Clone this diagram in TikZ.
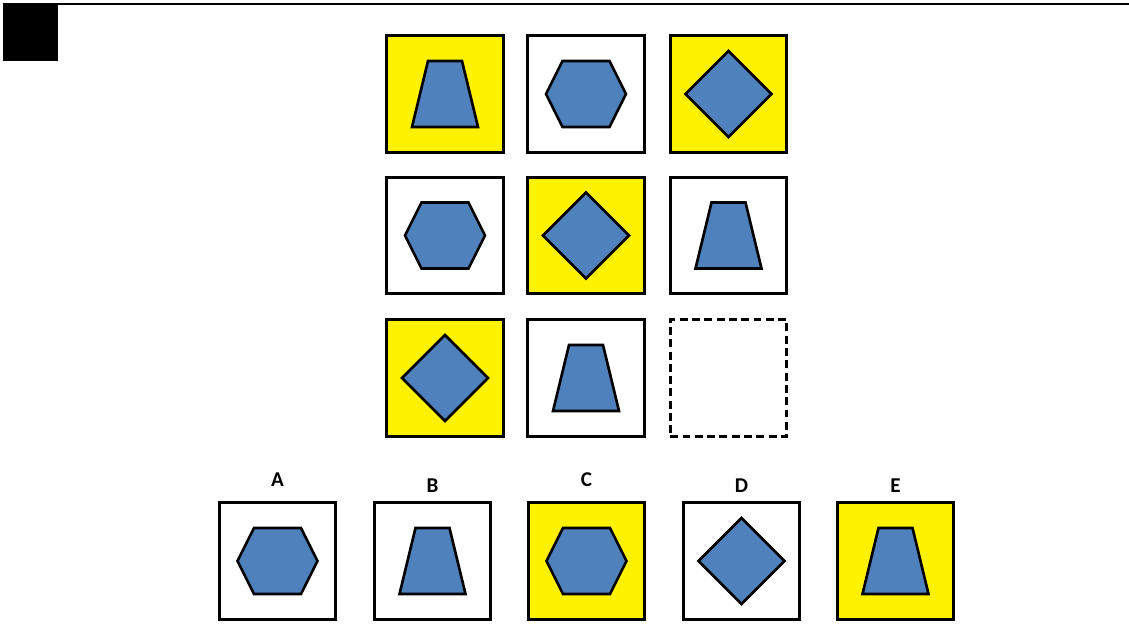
\documentclass[tikz,border=0pt]{standalone}
\usepackage{fontspec}
\setmainfont{Carlito}
\usetikzlibrary{positioning}
\definecolor{shapeblue}{HTML}{4F81BD}
\tikzset{%
  fig/.style={draw,line width=1.5pt,fill=shapeblue,line join=miter},
  trap/.pic={\draw[fig] (-17,-33) -- (17,-33) -- (33,33) -- (-33,33) -- cycle;},
  hexa/.pic={\draw[fig] (-40,0) -- (-23.5,-33) -- (23.5,-33) -- (40,0) -- (23.5,33) -- (-23.5,33) -- cycle;},
  diam/.pic={\draw[fig] (0,-43) -- (43,0) -- (0,43) -- (-43,0) -- cycle;},
}

\begin{document}
\begin{tikzpicture}[x=0.02cm,y=-0.02cm,
            cell/.style={
              draw,
              line width=1.8pt,
              minimum size=2.33cm,
              inner sep=0pt
              },
            yel/.style={cell,fill=yellow},
            wht/.style={cell,fill=white},
            blank/.style={cell,dash pattern=on 4.5pt off 2.5pt},
            lbl/.style={font=\bfseries\fontsize{12}{14}\selectfont}
            ]
            \useasboundingbox (0,0) rectangle (1129,626);
            \fill (3,3) rectangle (58,61);
            \draw[line width=1.2pt] (58,4) -- (1129,4);

            % matrix of the puzzle
            \foreach \n/\x/\y/\s in {g11/445/94/yel,g12/586/94/wht,g13/728.5/94/yel,
                                     g21/445/235.5/wht,g22/586/235.5/yel,g23/728.5/235.5/wht,
                                     g31/445/378/yel,g32/586/378/wht,g33/728.5/378/blank}
              \node[\s] (\n) at (\x,\y) {};

            \foreach \n/\p in {g11/trap,g12/hexa,g13/diam,g21/hexa,g22/diam,g23/trap,g31/diam,g32/trap}
              \pic at (\n) {\p};

            % answers
            \foreach \a/\x/\s/\p/\ly in {A/277.5/wht/hexa/480,B/432.5/wht/trap/486,C/586.5/yel/hexa/480,
                                         D/741.5/wht/diam/486,E/895.5/yel/trap/486}
            {
              \node[\s] (a\a) at (\x,561) {};
              \pic at (a\a) {\p};
              \node[lbl] (l\a) at (\x,\ly) {\a};
            }
\end{tikzpicture}
\end{document}
